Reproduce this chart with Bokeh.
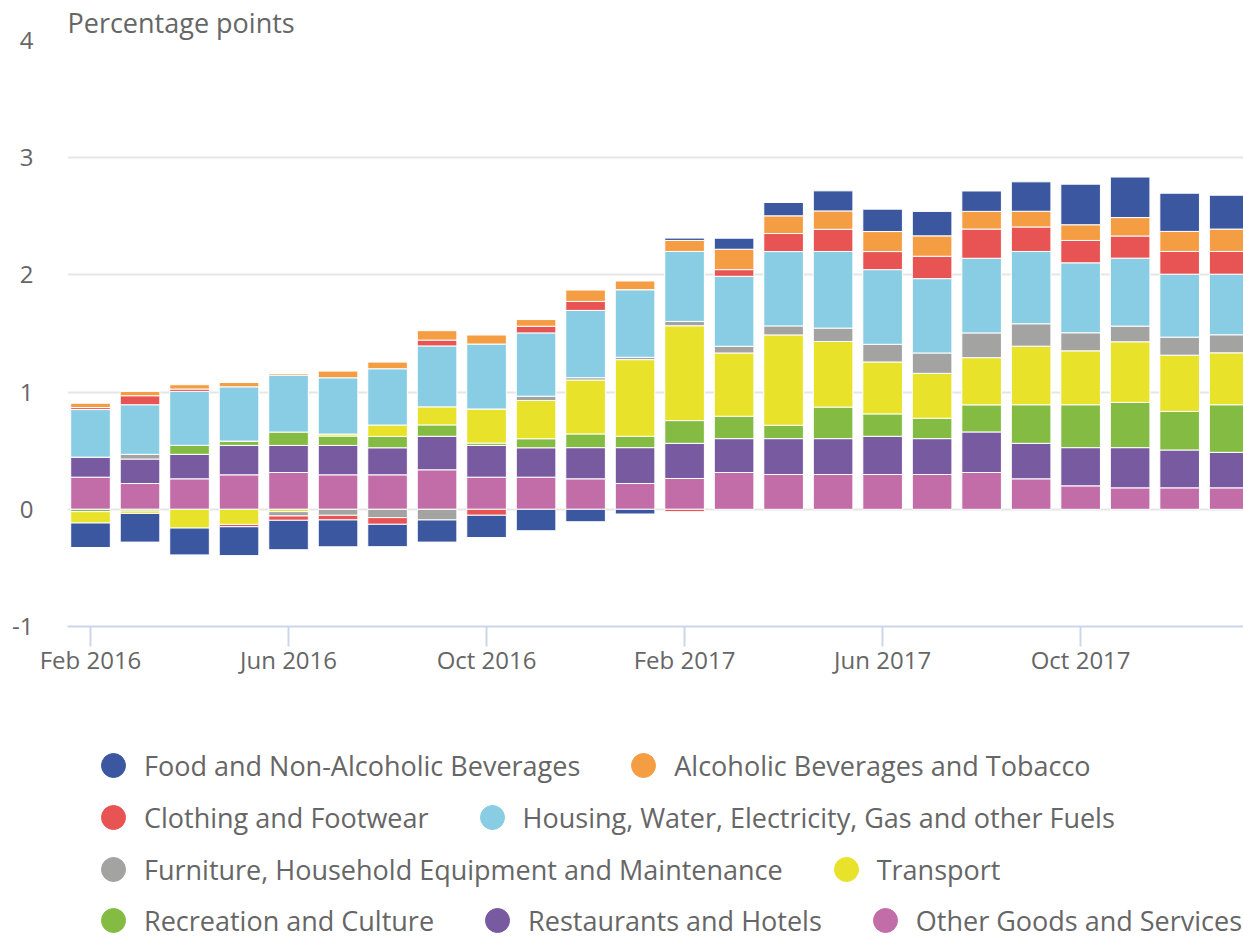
from bokeh.plotting import figure
from bokeh.layouts import column
from bokeh.models import ColumnDataSource, FixedTicker, Legend, LegendItem
from bokeh.embed import file_html
from bokeh.resources import INLINE

months = ["Feb 2016", "Mar 2016", "Apr 2016", "May 2016", "Jun 2016", "Jul 2016",
          "Aug 2016", "Sep 2016", "Oct 2016", "Nov 2016", "Dec 2016", "Jan 2017",
          "Feb 2017", "Mar 2017", "Apr 2017", "May 2017", "Jun 2017", "Jul 2017",
          "Aug 2017", "Sep 2017", "Oct 2017", "Nov 2017", "Dec 2017", "Jan 2018"]
tick_months = ["Feb 2016", "Jun 2016", "Oct 2016", "Feb 2017", "Jun 2017", "Oct 2017"]
y_ticks = [-1, 0, 1, 2, 3, 4]
y_tick_labels = ["-1", "0", "1", "2", "3", "4"]

food = [-0.209, -0.245, -0.229, -0.246, -0.251, -0.229, -0.191, -0.189, -0.19, -0.183, -0.106, -0.04,
        0.02, 0.094, 0.114, 0.171, 0.191, 0.209, 0.174, 0.251, 0.346, 0.346, 0.326, 0.289]
alcohol = [0.037, 0.037, 0.037, 0.037, 0.014, 0.057, 0.057, 0.08, 0.077, 0.057, 0.097, 0.074,
           0.094, 0.174, 0.151, 0.157, 0.171, 0.174, 0.151, 0.134, 0.134, 0.157, 0.171, 0.191]
clothing = [0.017, 0.077, 0.02, -0.02, -0.037, -0.04, -0.057, 0.05, -0.051, 0.057, 0.077, 0.0,
            -0.02, 0.057, 0.154, 0.189, 0.154, 0.191, 0.249, 0.209, 0.191, 0.189, 0.194, 0.194]
housing = [0.406, 0.423, 0.46, 0.463, 0.486, 0.48, 0.48, 0.52, 0.554, 0.54, 0.574, 0.577,
           0.597, 0.597, 0.634, 0.654, 0.637, 0.634, 0.637, 0.617, 0.597, 0.58, 0.537, 0.517]
furniture = [0.0, 0.04, 0.0, 0.0, -0.037, -0.051, -0.071, -0.091, 0.0, 0.037, 0.02, 0.02,
             0.037, 0.057, 0.077, 0.114, 0.151, 0.174, 0.211, 0.191, 0.154, 0.134, 0.154, 0.154]
transport = [-0.097, -0.02, -0.16, -0.129, -0.02, 0.017, 0.097, 0.154, 0.291, 0.326, 0.46, 0.654,
             0.809, 0.54, 0.771, 0.56, 0.443, 0.383, 0.403, 0.5, 0.46, 0.517, 0.48, 0.443]
recreation = [-0.02, -0.015, 0.077, 0.037, 0.114, 0.08, 0.097, 0.097, 0.02, 0.077, 0.117, 0.097,
              0.194, 0.191, 0.114, 0.269, 0.191, 0.174, 0.231, 0.329, 0.366, 0.386, 0.329, 0.406]
restaurants = [0.171, 0.209, 0.209, 0.251, 0.231, 0.251, 0.231, 0.286, 0.271, 0.251, 0.266, 0.306,
               0.3, 0.289, 0.306, 0.306, 0.326, 0.306, 0.346, 0.303, 0.326, 0.343, 0.323, 0.303]
other = [0.274, 0.22, 0.26, 0.294, 0.314, 0.294, 0.294, 0.337, 0.274, 0.274, 0.26, 0.22,
         0.263, 0.314, 0.297, 0.297, 0.297, 0.297, 0.314, 0.26, 0.2, 0.183, 0.183, 0.183]

names = ["Food and Non-Alcoholic Beverages", "Alcoholic Beverages and Tobacco",
         "Clothing and Footwear", "Housing, Water, Electricity, Gas and other Fuels",
         "Furniture, Household Equipment and Maintenance", "Transport",
         "Recreation and Culture", "Restaurants and Hotels", "Other Goods and Services"]
values = [food, alcohol, clothing, housing, furniture, transport, recreation, restaurants, other]
colors = ["#3B57A0", "#F59D43", "#E85353", "#89CDE4", "#A3A3A1", "#E9E22B",
          "#84BC43", "#785AA0", "#C26CA8"]
legend_rows = [[0, 1], [2, 3], [4, 5], [6, 7, 8]]

FONT = "Open Sans"
TXT = "#666666"

p = figure(width=1243, height=700, x_range=(-0.465, 23.29), y_range=(-1, 4),
           output_backend="svg", toolbar_location=None,
           title="Percentage points",
           min_border_left=67, min_border_right=0, min_border_top=40, min_border_bottom=74)
p.outline_line_color = None
p.border_fill_color = "white"

p.title.align = "left"
p.title.text_font = FONT
p.title.text_font_size = "27px"
p.title.text_font_style = "normal"
p.title.text_color = TXT
p.title.offset = 0
p.title.standoff = 0

# stacked bars, positive and negative stacks separately
x = list(range(len(months)))
pos = [0.0] * len(months)
neg = [0.0] * len(months)
for k in reversed(range(len(names))):
    vals = values[k]
    bottoms, tops = [], []
    for i, v in enumerate(vals):
        if v >= 0:
            bottoms.append(pos[i]); tops.append(pos[i] + v); pos[i] += v
        else:
            bottoms.append(neg[i] + v); tops.append(neg[i]); neg[i] += v
    src = ColumnDataSource(dict(x=x, bottom=bottoms, top=tops))
    p.vbar(x="x", bottom="bottom", top="top", width=0.8, source=src,
           fill_color=colors[k], line_color="white", line_width=1)

# axes
p.xgrid.visible = False
p.ygrid.grid_line_color = "#e6e6e6"
p.ygrid.grid_line_width = 2
p.yaxis.ticker = FixedTicker(ticks=y_ticks)
p.yaxis.major_label_overrides = dict(zip(y_ticks, y_tick_labels))
p.yaxis.axis_line_color = None
p.yaxis.major_tick_line_color = None
p.yaxis.minor_tick_line_color = None
p.yaxis.major_tick_out = 0
p.yaxis.major_tick_in = 0
p.yaxis.major_label_standoff = 34
p.yaxis.major_label_text_font = FONT
p.yaxis.major_label_text_font_size = "24px"
p.yaxis.major_label_text_color = TXT

tick_idx = [months.index(m) for m in tick_months]
p.xaxis.ticker = FixedTicker(ticks=tick_idx)
p.xaxis.major_label_overrides = {i: months[i] for i in tick_idx}
p.xaxis.axis_line_color = "#ccd6eb"
p.xaxis.axis_line_width = 2
p.xaxis.major_tick_line_color = "#ccd6eb"
p.xaxis.major_tick_line_width = 2
p.xaxis.major_tick_in = 0
p.xaxis.major_tick_out = 20
p.xaxis.minor_tick_line_color = None
p.xaxis.major_label_standoff = -4
p.xaxis.major_label_text_font = FONT
p.xaxis.major_label_text_font_size = "24px"
p.xaxis.major_label_text_color = TXT

# legend panel below the chart
lf = figure(width=1243, height=240, x_range=(0, 1), y_range=(0, 1),
            output_backend="svg", toolbar_location=None,
            min_border_left=0, min_border_right=0, min_border_top=0, min_border_bottom=0)
lf.axis.visible = False
lf.grid.visible = False
lf.outline_line_color = None

nan = float("nan")
markers = []
for k in range(len(names)):
    markers.append(lf.scatter(x=[nan], y=[nan], marker="circle", size=10,
                              fill_color=colors[k], line_color=colors[k]))

row_bottoms = [145, 93, 41, -10]
for r, row in enumerate(legend_rows):
    items = [LegendItem(label=names[k], renderers=[markers[k]]) for k in row]
    lg = Legend(items=items, orientation="horizontal",
                location=(16, row_bottoms[r]),
                glyph_width=60, glyph_height=60, label_standoff=1, spacing=33,
                padding=0, margin=0,
                border_line_color=None, background_fill_alpha=0,
                label_text_font=FONT, label_text_font_size="27px",
                label_text_color=TXT, label_text_baseline="middle")
    lf.add_layout(lg, "center")

layout = column(p, lf, spacing=0)
open("out.html", "w").write(file_html(layout, INLINE))
